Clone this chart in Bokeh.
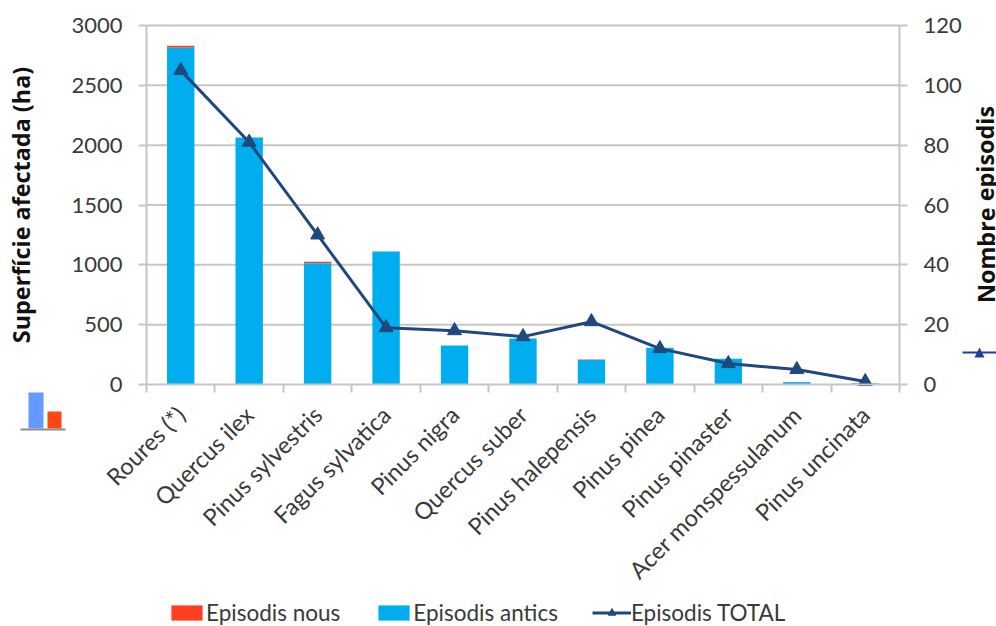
from bokeh.embed import file_html
from bokeh.resources import INLINE
from bokeh.plotting import figure
from bokeh.models import (BoxAnnotation, ColumnDataSource, FixedTicker, Label, Legend, LegendItem,
                          LinearAxis, PolyAnnotation, Range1d)

species = ["Roures (*)", "Quercus ilex", "Pinus sylvestris", "Fagus sylvatica", "Pinus nigra",
           "Quercus suber", "Pinus halepensis", "Pinus pinea", "Pinus pinaster",
           "Acer monspessulanum", "Pinus uncinata"]
episodis_antics = [2815, 2065, 1014, 1112, 325, 385, 205, 308, 215, 20, 10]
episodis_nous = [15, 0, 12, 0, 0, 0, 4, 0, 0, 0, 0]
episodis_total = [105, 81, 50, 19, 18, 16, 21, 12, 7, 5, 1]
left_ticks = [0, 500, 1000, 1500, 2000, 2500, 3000]
right_ticks = [0, 20, 40, 60, 80, 100, 120]

FONT = "Lato"
TITLE_FONT = "Open Sans"
GREY = "#c6c6c6"
TEXT = "#3a3a3a"
NAVY = "#1f497d"
WIDTH, HEIGHT = 996, 626

# Pixel edges of the plotting area; the frame spans the whole canvas so that
# axes, legend and side decorations can all be placed freely inside it.
PLOT_LEFT, PLOT_RIGHT, PLOT_TOP, PLOT_BOTTOM = 146, 899, 25, 384
n = len(species)
x_per_px = n / (PLOT_RIGHT - PLOT_LEFT)
y_per_px = 3000 / (PLOT_BOTTOM - PLOT_TOP)
x_range = Range1d(-PLOT_LEFT * x_per_px, (WIDTH - PLOT_LEFT) * x_per_px)
y_low, y_high = -(HEIGHT - PLOT_BOTTOM) * y_per_px, 3000 + PLOT_TOP * y_per_px

centres = [i + 0.5 for i in range(n)]
tops = [a + b for a, b in zip(episodis_antics, episodis_nous)]
source = ColumnDataSource(dict(x=centres, antics=episodis_antics, top=tops, total=episodis_total))

p = figure(width=WIDTH, height=HEIGHT, output_backend="svg", toolbar_location=None,
           x_range=x_range, y_range=Range1d(y_low, y_high),
           x_axis_location=None, y_axis_location=None, min_border=0)
p.extra_y_ranges = {"episodis": Range1d(y_low * 120 / 3000, y_high * 120 / 3000)}
p.outline_line_color = None
p.background_fill_color = "white"
p.xgrid.visible = False
p.ygrid.visible = False


def style_axis(axis):
    axis.axis_line_color = GREY
    axis.axis_line_width = 2
    axis.major_tick_line_color = GREY
    axis.major_tick_line_width = 2
    axis.major_tick_in = 0
    axis.major_tick_out = 8
    axis.minor_tick_line_color = None
    axis.major_label_text_font = FONT
    axis.major_label_text_font_size = "22px"
    axis.major_label_text_color = TEXT
    axis.axis_label_text_font = TITLE_FONT
    axis.axis_label_text_font_size = "23.4px"
    axis.axis_label_text_font_style = "bold"
    axis.axis_label_text_color = "#111111"


left = LinearAxis(ticker=FixedTicker(ticks=left_ticks), axis_label="Superfície afectada (ha)",
                  fixed_location=0, bounds=(0, 3000))
style_axis(left)
left.major_label_standoff = 16
left.axis_label_standoff = 31
p.add_layout(left, "left")

right = LinearAxis(y_range_name="episodis", ticker=FixedTicker(ticks=right_ticks),
                   fixed_location=n, bounds=(0, 120))
style_axis(right)
right.major_label_standoff = 16
p.add_layout(right, "right")

# The right-hand title reads upwards, like the left one.
p.add_layout(Label(x=985, y=HEIGHT - 204, x_units="screen", y_units="screen", text="Nombre episodis",
                   angle=1.5708, text_align="center", text_baseline="middle",
                   text_font=TITLE_FONT, text_font_size="23.4px", text_font_style="bold",
                   text_color="#111111"))

# Labels sit at category centres, tick marks at the category boundaries.
bottom = LinearAxis(ticker=FixedTicker(ticks=centres, minor_ticks=list(range(n + 1))),
                    major_label_overrides=dict(zip(centres, species)),
                    fixed_location=0, bounds=(0, n))
style_axis(bottom)
bottom.major_label_text_font_size = "23.5px"
bottom.major_tick_out = 0
bottom.minor_tick_line_color = GREY
bottom.minor_tick_line_width = 2
bottom.minor_tick_in = 0
bottom.minor_tick_out = 8
bottom.major_label_orientation = 0.785
bottom.major_label_standoff = 18
p.add_layout(bottom, "below")

# Gridlines stop at the plot's own edges, not the canvas edges.
p.segment(x0=[0] * 6, x1=[n] * 6, y0=left_ticks[1:], y1=left_ticks[1:], line_color=GREY, line_width=2)

nous = p.vbar(x="x", width=0.4, bottom="antics", top="top", source=source, color="#ff3f1f", line_color=None)
antics = p.vbar(x="x", width=0.4, bottom=0, top="antics", source=source, color="#00aeef", line_color=None)
line = p.line("x", "total", source=source, y_range_name="episodis", color=NAVY, line_width=3)
marks = p.scatter("x", "total", source=source, y_range_name="episodis", marker="triangle",
                  size=14, color=NAVY, line_color=NAVY)

legend = Legend(items=[LegendItem(label="Episodis nous", renderers=[nous]),
                       LegendItem(label="Episodis antics", renderers=[antics]),
                       LegendItem(label="Episodis TOTAL", renderers=[line, marks])],
                orientation="horizontal", location=(167, 0), spacing=34,
                glyph_width=39, glyph_height=19, label_standoff=0, padding=0, margin=0,
                border_line_color=None, background_fill_alpha=0,
                label_text_font=FONT, label_text_font_size="22.5px", label_text_color=TEXT)
p.add_layout(legend, "center")


def screen_box(l, r, t, b, color):
    """Filled box given in pixels from the canvas' top-left corner."""
    return BoxAnnotation(left=l, right=r, top=HEIGHT - t, bottom=HEIGHT - b,
                         left_units="screen", right_units="screen",
                         top_units="screen", bottom_units="screen", fill_color=color, fill_alpha=1,
                         line_color=None, level="overlay")


# Chart-type icon under the left axis and the clipped legend key at the right edge.
p.add_layout(screen_box(28, 43, 392, 428, "#6699ff"))
p.add_layout(screen_box(47, 61, 411, 428, "#ff4513"))
p.add_layout(screen_box(20, 65, 428, 430, "#8c8c8c"))
p.add_layout(screen_box(962, 996, 351, 353, "#1f3f9f"))
p.add_layout(PolyAnnotation(xs=[974, 984, 979], ys=[HEIGHT - 357, HEIGHT - 357, HEIGHT - 347],
                            xs_units="screen", ys_units="screen",
                            fill_color="#1f3f9f", fill_alpha=1, line_color=None, level="overlay"))

open("out.html", "w").write(file_html(p, INLINE))
